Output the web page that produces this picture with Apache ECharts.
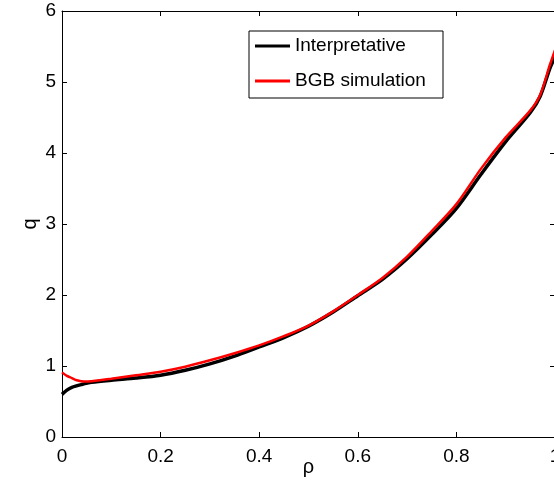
<!DOCTYPE html>
<html>
<head>
<meta charset="utf-8">
<script src="https://cdn.jsdelivr.net/npm/echarts@6/dist/echarts.min.js"></script>
<style>html,body{margin:0;padding:0;background:#fff;}#c{width:554px;height:496px;}</style>
</head>
<body>
<div id="c"></div>
<script>
var rhoBlack = [0, 0.01, 0.02, 0.04, 0.06, 0.1, 0.15, 0.2, 0.25, 0.3, 0.35, 0.4, 0.45, 0.5, 0.55, 0.6, 0.65, 0.7, 0.75, 0.8, 0.85, 0.9, 0.95, 0.97, 0.99, 1.0];
var qBlack   = [0.60, 0.66, 0.70, 0.74, 0.77, 0.80, 0.83, 0.87, 0.94, 1.03, 1.14, 1.27, 1.40, 1.56, 1.76, 1.99, 2.22, 2.51, 2.85, 3.22, 3.70, 4.16, 4.57, 4.80, 5.20, 5.35];
var rhoRed   = [0, 0.01, 0.02, 0.03, 0.045, 0.06, 0.1, 0.15, 0.2, 0.25, 0.3, 0.35, 0.4, 0.45, 0.5, 0.55, 0.6, 0.65, 0.7, 0.75, 0.8, 0.85, 0.9, 0.95, 0.97, 0.99, 1.0];
var qRed     = [0.91, 0.86, 0.83, 0.80, 0.78, 0.785, 0.82, 0.87, 0.92, 0.99, 1.08, 1.18, 1.29, 1.42, 1.57, 1.77, 2.00, 2.24, 2.54, 2.90, 3.28, 3.78, 4.22, 4.60, 4.82, 5.25, 5.45];
var seriesNames = ['Interpretative', 'BGB simulation'];
var xTicks = [0, 0.2, 0.4, 0.6, 0.8, 1];
var yTicks = [0, 1, 2, 3, 4, 5, 6];

function pairs(xs, ys) { return xs.map(function (x, i) { return [x, ys[i]]; }); }

var font = 'Liberation Sans, Arial, Helvetica, sans-serif';
var chart = echarts.init(document.getElementById('c'), null, {renderer: 'canvas'});
var lineStyleAxis = {color: '#000', width: 1};
chart.setOption({
  animation: false,
  backgroundColor: '#fff',
  grid: {left: 62, top: 11, width: 493, height: 426, containLabel: false, outerBoundsMode: 'none'},
  legend: {
    data: seriesNames,
    orient: 'vertical',
    left: 249, top: 31,
    padding: [5, 4, 7, 6],
    itemWidth: 35, itemHeight: 3, itemGap: 15,
    icon: 'rect',
    borderColor: '#000', borderWidth: 1,
    backgroundColor: '#fff',
    textStyle: {fontFamily: font, fontSize: 19, color: '#000', lineHeight: 20, width: 144}
  },
  xAxis: [{
    type: 'value', min: xTicks[0], max: xTicks[xTicks.length - 1], interval: 0.2,
    name: 'ρ', nameLocation: 'middle', nameGap: 20, nameMoveOverlap: false,
    nameTextStyle: {fontFamily: font, fontSize: 20, color: '#000'},
    axisLine: {show: true, lineStyle: lineStyleAxis},
    axisTick: {show: true, inside: true, length: 5, lineStyle: lineStyleAxis},
    axisLabel: {fontFamily: font, fontSize: 19, color: '#000', margin: 10, showMaxLabel: true, hideOverlap: false},
    splitLine: {show: false}
  }, {
    type: 'value', position: 'top', min: 0, max: 1, interval: 0.2,
    axisLine: {show: true, onZero: false, lineStyle: lineStyleAxis},
    axisTick: {show: true, inside: true, length: 5, lineStyle: lineStyleAxis},
    axisLabel: {show: false}, splitLine: {show: false}
  }],
  yAxis: [{
    type: 'value', min: yTicks[0], max: yTicks[yTicks.length - 1], interval: 1,
    name: 'q', nameLocation: 'middle', nameGap: 22, nameRotate: 90, nameMoveOverlap: false,
    nameTextStyle: {fontFamily: font, fontSize: 20, color: '#000'},
    axisLine: {show: true, lineStyle: lineStyleAxis},
    axisTick: {show: true, inside: true, length: 5, lineStyle: lineStyleAxis},
    axisLabel: {fontFamily: font, fontSize: 19, color: '#000', margin: 6},
    splitLine: {show: false}
  }, {
    type: 'value', position: 'right', min: 0, max: 6, interval: 1,
    axisLine: {show: true, onZero: false, lineStyle: lineStyleAxis},
    axisTick: {show: true, inside: true, length: 5, lineStyle: lineStyleAxis},
    axisLabel: {show: false}, splitLine: {show: false}
  }],
  series: [{
    name: seriesNames[0], type: 'line', data: pairs(rhoBlack, qBlack),
    showSymbol: false, symbol: 'none', smooth: 0.3,
    lineStyle: {color: '#000', width: 3.5}, itemStyle: {color: '#000'}, z: 2
  }, {
    name: seriesNames[1], type: 'line', data: pairs(rhoRed, qRed),
    showSymbol: false, symbol: 'none', smooth: 0.3,
    lineStyle: {color: '#ff0000', width: 2.5}, itemStyle: {color: '#ff0000'}, z: 3
  }]
});
</script>
</body>
</html>
